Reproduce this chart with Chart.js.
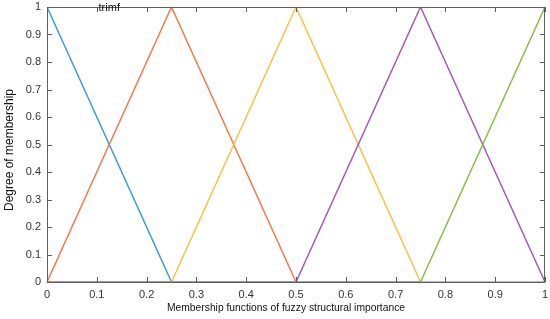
<!DOCTYPE html>
<html>
<head>
<meta charset="utf-8">
<script src="https://cdn.jsdelivr.net/npm/chart.js@4/dist/chart.umd.min.js"></script>
<style>
  html, body { margin: 0; padding: 0; background: #fff; }
  #wrap { width: 550px; height: 319px; }
</style>
</head>
<body>
<div id="wrap"><canvas id="c" width="550" height="319"></canvas></div>
<script>
// x breakpoints of the triangles
const xPoints = [0, 0.25, 0.5, 0.75, 1];

// membership values at those points
const mf1 = [1, 0, 0, 0, 0];
const mf2 = [0, 1, 0, 0, 0];
const mf3 = [0, 0, 1, 0, 0];
const mf4 = [0, 0, 0, 1, 0];
const mf5 = [0, 0, 0, 0, 1];

const seriesList = [mf1, mf2, mf3, mf4, mf5];
const seriesColors = ["#3d9bd8", "#ee7a4e", "#f6c244", "#a25bb0", "#86bd4a"];

const mfLabel = "trimf";
const mfLabelX = 0.125;

const xTitle = "Membership functions of fuzzy structural importance";
const yTitle = "Degree of membership";

const datasets = seriesList.map((vals, i) => ({
  data: vals.map((v, k) => ({ x: xPoints[k], y: v })),
  borderColor: seriesColors[i],
  borderWidth: 1.5,
  pointRadius: 0,
  tension: 0,
  fill: false,
  order: seriesList.length - i // last series drawn on top
}));

// box around plot + inward ticks on all four sides, titles
const boxPlugin = {
  id: "box",
  afterDraw(chart) {
    const ctx = chart.ctx;
    const a = chart.chartArea;
    const xs = chart.scales.x, ys = chart.scales.y;
    ctx.save();
    ctx.strokeStyle = "#5e5e5e";
    ctx.lineWidth = 1;
    ctx.strokeRect(a.left + 0.5, a.top + 0.5, a.right - a.left - 1, a.bottom - a.top);
    ctx.beginPath();
    xs.ticks.forEach(t => {
      const px = Math.round(xs.getPixelForValue(t.value)) + 0.5;
      ctx.moveTo(px, a.bottom); ctx.lineTo(px, a.bottom - 5);
      ctx.moveTo(px, a.top); ctx.lineTo(px, a.top + 5);
    });
    ys.ticks.forEach(t => {
      const py = Math.round(ys.getPixelForValue(t.value)) + 0.5;
      ctx.moveTo(a.left, py); ctx.lineTo(a.left + 5, py);
      ctx.moveTo(a.right, py); ctx.lineTo(a.right - 5, py);
    });
    ctx.stroke();

    ctx.fillStyle = "#111";
    ctx.textAlign = "center";
    ctx.textBaseline = "middle";
    // mf name
    ctx.font = "11px 'Liberation Sans', Arial, sans-serif";
    ctx.fillText(mfLabel, xs.getPixelForValue(mfLabelX), ys.getPixelForValue(1) + 1);
    // x title
    ctx.font = "10.3px 'Liberation Sans', Arial, sans-serif";
    ctx.fillText(xTitle, 286, 308);
    // y title
    ctx.font = "12px 'Liberation Sans', Arial, sans-serif";
    ctx.translate(10, 150);
    ctx.rotate(-Math.PI / 2);
    ctx.fillText(yTitle, 0, 0);
    ctx.restore();
  }
};

const tickFont = { family: "'Liberation Sans', Arial, sans-serif", size: 11 };
const fmt = v => String(+Number(v).toFixed(1));

function noPad(s) {
  s.paddingLeft = 0; s.paddingRight = 0; s.paddingTop = 0; s.paddingBottom = 0;
}

new Chart(document.getElementById("c").getContext("2d"), {
  type: "line",
  data: { datasets },
  options: {
    responsive: false,
    animation: false,
    layout: { padding: { left: 0, right: 5, top: 7, bottom: 0 } },
    plugins: { legend: { display: false }, tooltip: { enabled: false } },
    scales: {
      x: {
        type: "linear",
        min: 0, max: 1,
        grid: { display: false, drawTicks: false },
        border: { display: false },
        ticks: { stepSize: 0.1, color: "#333", font: tickFont, padding: 6, maxRotation: 0, callback: fmt },
        afterFit(s) { s.height = 37; noPad(s); }
      },
      y: {
        min: 0, max: 1,
        grid: { display: false, drawTicks: false },
        border: { display: false },
        ticks: { stepSize: 0.1, color: "#333", font: tickFont, padding: 6, callback: fmt },
        afterFit(s) { s.width = 47; noPad(s); }
      }
    }
  },
  plugins: [boxPlugin]
});
</script>
</body>
</html>
